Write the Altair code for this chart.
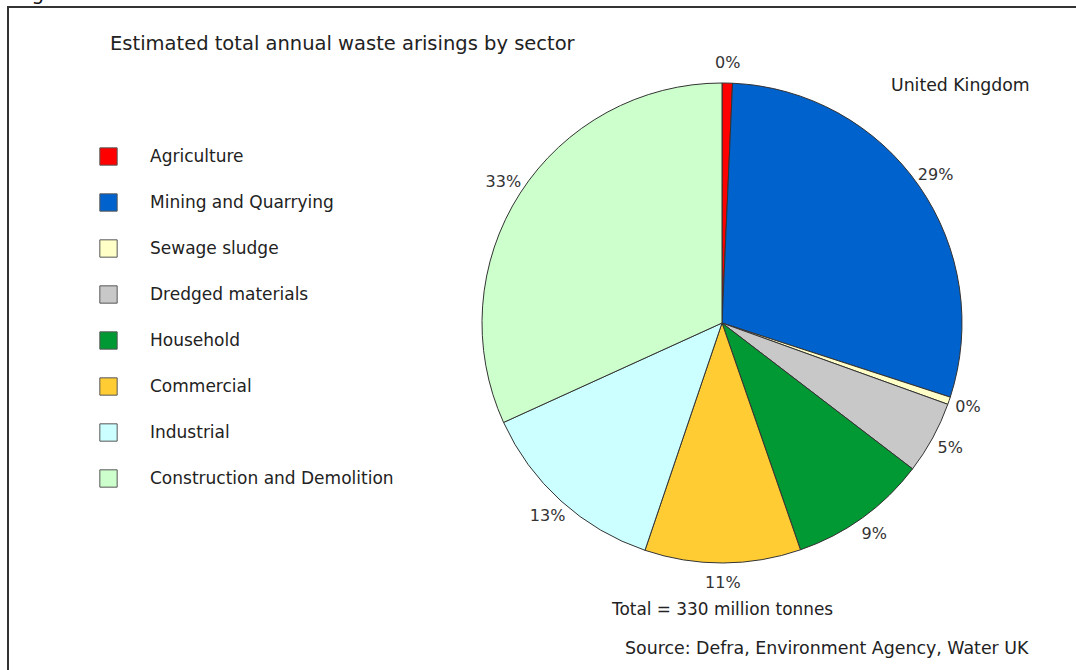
import altair as alt
import pandas as pd

sectors = ["Agriculture", "Mining and Quarrying", "Sewage sludge", "Dredged materials",
           "Household", "Commercial", "Industrial", "Construction and Demolition"]
shares = [0.7, 29.3, 0.5, 4.9, 9.3, 10.5, 13.0, 31.8]
labels = ["0%", "29%", "0%", "5%", "9%", "11%", "13%", "33%"]
colors = ["#FF0000", "#0062CC", "#FFFFC8", "#C8C8C8", "#009933", "#FFCC33", "#CCFFFF", "#CCFFCC"]

title_text = "Estimated total annual waste arisings by sector"
region_text = "United Kingdom"
total_text = "Total = 330 million tonnes"
source_text = "Source: Defra, Environment Agency, Water UK"

df = pd.DataFrame({"sector": sectors, "share": shares, "label": labels,
                   "order": list(range(len(sectors)))})

FONT = "DejaVu Sans"
W, H = 1076, 670
CX, CY, R = 722, 323, 240

base = alt.Chart(df).encode(
    theta=alt.Theta("share:Q", stack=True),
    order=alt.Order("order:Q"),
)

pie = base.mark_arc(stroke="#333333", strokeWidth=1, radius=R).encode(
    x=alt.value(CX), y=alt.value(CY),
    color=alt.Color("sector:N", sort=sectors,
                    scale=alt.Scale(domain=sectors, range=colors),
                    legend=alt.Legend(title=None, orient="none", legendX=99, legendY=147,
                                      symbolType="square", symbolSize=300,
                                      symbolStrokeColor="#555555", symbolStrokeWidth=1,
                                      symbolOpacity=1,
                                      labelFont=FONT, labelFontSize=17, labelColor="#222222",
                                      labelOffset=32, rowPadding=23, labelLimit=400)),
)

pct = base.mark_text(font=FONT, fontSize=16, color="#333333", radius=260).encode(
    x=alt.value(CX), y=alt.value(CY), text="label:N")

def note(txt, x, y, size=15, align="left"):
    return alt.Chart(pd.DataFrame({"t": [txt]})).mark_text(
        font=FONT, fontSize=size, color="#222222", align=align, baseline="middle"
    ).encode(x=alt.value(x), y=alt.value(y), text="t:N")

frame_left = alt.Chart(pd.DataFrame({"a": [0]})).mark_rule(color="#333333", strokeWidth=2).encode(
    x=alt.value(8), y=alt.value(6), y2=alt.value(H))
frame_top = alt.Chart(pd.DataFrame({"a": [0]})).mark_rule(color="#333333", strokeWidth=2).encode(
    x=alt.value(8), x2=alt.value(W), y=alt.value(7))

fig = alt.Chart(pd.DataFrame({"t": ["Figure"]})).mark_text(
    font=FONT, fontSize=20, color="#111111", align="left", baseline="alphabetic"
).encode(x=alt.value(16), y=alt.value(0), text="t:N")

chart = alt.layer(
    frame_left, frame_top, fig, pie, pct,
    note(title_text, 110, 44, 19.5),
    note(region_text, 891, 86, 17.3),
    note(total_text, 612, 610, 16.9),
    note(source_text, 625, 649, 17.4),
).properties(
    width=W, height=H, padding=0, autosize=alt.AutoSizeParams(type="none")
).configure_view(stroke=None)

chart.save("out.html", embed_options={"renderer": "svg", "actions": False})
